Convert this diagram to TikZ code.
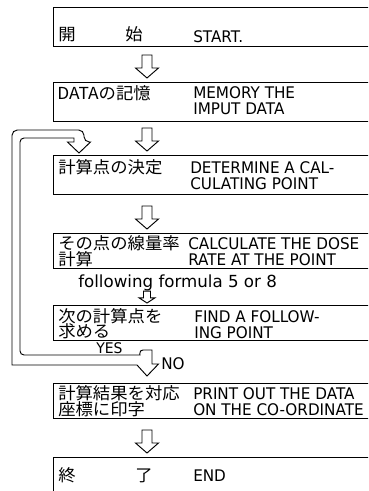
\documentclass[tikz,border=0pt]{standalone}
\usepackage{fontspec}
\usetikzlibrary{calc}
\newfontfamily\jfont[FakeStretch=1.05]{Noto Sans CJK JP}
\newfontfamily\efont[FakeStretch=0.95]{DejaVu Sans}
\newfontfamily\nfont{DejaVu Sans}

\tikzset{
  pics/hollowdown/.style={code={
    \draw[arrowline] (-5,-23) -- (-5,-10) -- (-11.5,-10) -- (0,0) -- (11.5,-10) -- (5,-10) -- (5,-23) -- cycle;
  }},
}

\begin{document}
\begin{tikzpicture}[x=0.75pt, y=-0.75pt,
    box/.style={draw, line width=0.8pt, anchor=north west, inner sep=0pt, minimum width=256.5pt},
    arrowline/.style={line width=0.7pt, line join=miter},
    jp/.style={anchor=base west, inner sep=0pt, font=\jfont\fontsize{12.4}{12}\selectfont},
    en/.style={anchor=base west, inner sep=0pt, font=\efont\fontsize{12}{11}\selectfont}]
  \useasboundingbox (0,0) rectangle (368,491);
  \clip (0,0) rectangle (368,491);

  % boxes
  \node[box, minimum height=29.25pt] (b1) at (53,7) {};
  \node[box, minimum height=29.25pt] (b2) at (53,82) {};
  \node[box, minimum height=29.25pt] (b3) at (53,155) {};
  \node[box, minimum height=26.25pt] (b4) at (53,233) {};
  \node[box, minimum height=26.25pt] (b5) at (53,305) {};
  \node[box, minimum height=26.25pt] (b6) at (53,383) {};
  \node[box, minimum height=47.25pt] (b7) at (53,457) {};

  % texts
  \node[jp] (j1a) at (58,41) {開};
  \node[jp] (j1b) at (125,41) {始};
  \node[en] (e1) at (193,43) {START.};
  \node[jp] (j2) at (57,100) {DATAの記憶};
  \node[en] (e2a) at (193,99) {MEMORY THE};
  \node[en] (e2b) at (193,115) {IMPUT DATA};
  \node[jp] (j3) at (58,174) {計算点の決定};
  \node[en] (e3a) at (190,174) {DETERMINE A CAL-};
  \node[en] (e3b) at (190,190) {CULATING POINT};
  \node[jp] (j4a) at (58,249) {その点の線量率};
  \node[jp] (j4b) at (58,265) {計算};
  \node[en] (e4a) at (188,249) {CALCULATE THE DOSE};
  \node[en] (e4b) at (188,265) {RATE AT THE POINT};
  \node[jp] (j5a) at (58,322) {次の計算点を};
  \node[jp] (j5b) at (58,337) {求める};
  \node[en] (e5a) at (194,322) {FIND A FOLLOW-};
  \node[en] (e5b) at (194,338) {ING POINT};
  \node[jp] (j6a) at (58,399) {計算結果を対応};
  \node[jp] (j6b) at (58,415) {座標に印字};
  \node[en] (e6a) at (193,399) {PRINT OUT THE DATA};
  \node[en] (e6b) at (193,415) {ON THE CO-ORDINATE};
  \node[jp] (j7a) at (58,481) {終};
  \node[jp] (j7b) at (135,481) {了};
  \node[en] (e7) at (193,481) {END};
  \node[anchor=base west, inner sep=0pt, font=\nfont\fontsize{12.5}{13}\selectfont] (formula) at (78,287) {following formula 5 or 8};
  \node[anchor=base west, inner sep=0pt, font=\efont\fontsize{11}{10}\selectfont] (yes) at (96,353) {YES};
  \node[anchor=base west, inner sep=0pt, font=\efont\fontsize{12}{10}\selectfont] (no) at (161,369) {NO};

  % arrows
  \coordinate (col) at (147,0);
  \pic at ($(col |- b2.north)+(0,-4)$) {hollowdown};
  \pic at ($(col |- b3.north)+(0,-4)$) {hollowdown};
  \pic at ($(col |- b4.north)+(0,-4)$) {hollowdown};
  \pic[xscale=0.7, yscale=0.52] at ($(col |- b5.north)+(0,-2)$) {hollowdown};
  \pic at ($(col |- b7.north)+(0,-4)$) {hollowdown};

  % YES / NO loop
  \draw[arrowline] (152,350) -- (152,364) -- (158.5,364) -- (147,376) -- (137,365)
    -- (12,365) [rounded corners=4] -- (12,130) -- (84,130) -- (84,142) [sharp corners]
    -- (90.5,142) -- (79,153) -- (67.5,142) -- (74,142) -- (74,138) [rounded corners=3]
    -- (20,138) -- (20,355) -- (136,355) [sharp corners]
    .. controls (140,355) and (139,350) .. (143,350) -- cycle;
\end{tikzpicture}
\end{document}
